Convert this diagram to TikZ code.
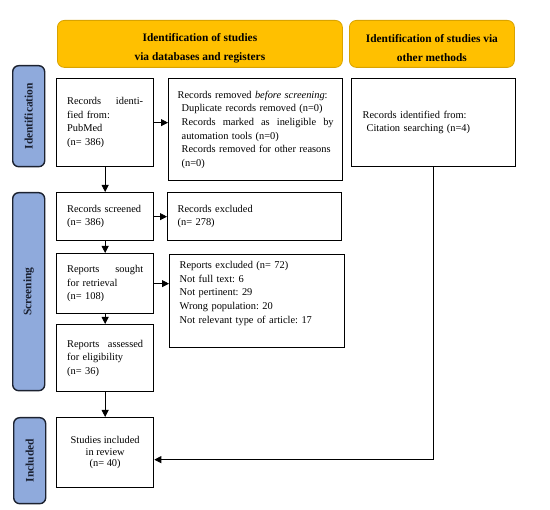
\documentclass[tikz,border=0pt]{standalone}
\usepackage{fontspec}
\setmainfont{Liberation Serif}
\usetikzlibrary{arrows.meta}
\definecolor{hdrgold}{HTML}{FFC000}
\definecolor{hdredge}{HTML}{D9A300}
\definecolor{sideblue}{HTML}{8FAADC}
\definecolor{sideedge}{HTML}{1C2230}
\definecolor{sidetext}{HTML}{1A2030}
\tikzset{
  hdr/.style={draw=hdredge, line width=0.8pt, fill=hdrgold, rounded corners=7pt,
    anchor=north west, inner sep=0pt},
  hdrtxt/.style={align=center, inner sep=0pt,
    font=\fontsize{11.4}{19}\selectfont\bfseries\frenchspacing},
  side/.style={draw=sideedge, line width=1.4pt, fill=sideblue, rounded corners=6pt,
    anchor=north west, inner sep=0pt, text=sidetext},
  sidelbl/.style={rotate=90, font=\fontsize{11.5}{12}\selectfont\bfseries, text=sidetext},
  box/.style={draw=black, line width=1.3pt, fill=white, anchor=north west,
    inner xsep=0pt, inner ysep=0pt, align=left,
    font=\fontsize{10.4}{13.6}\selectfont\frenchspacing},
  arr/.style={draw=black, line width=0.8pt, -{Triangle[length=7pt,width=7pt]}}
}
\begin{document}
\begin{tikzpicture}[x=1pt,y=-1pt]
\useasboundingbox (0,0) rectangle (550,510);
% headers
\node[hdr, minimum width=285pt, minimum height=47pt] (h1) at (57,20) {};
\node[hdrtxt] (h1t) at ([yshift=-4.5pt]h1.center) {Identification of studies\\via databases and registers};
\node[hdr, minimum width=165pt, minimum height=47pt] (h2) at (349,20) {};
\node[hdrtxt] (h2t) at ([yshift=-4.5pt]h2.center) {Identification of studies via\\other methods};
% side bars
\node[side, minimum width=32pt, minimum height=101pt] (s1) at (12,65) {};
\node[sidelbl] (s1t) at (s1.center) {Identification};
\node[side, minimum width=32pt, minimum height=198pt] (s2) at (12,192) {};
\node[sidelbl] (s2t) at (s2.center) {Screening};
\node[side, minimum width=32pt, minimum height=86pt] (s3) at (13,417) {};
\node[sidelbl] (s3t) at (s3.center) {Included};
% boxes
\node[box, minimum width=97pt, minimum height=88pt, text width=76pt] (idf) at (56,78)
  {Records\hfill identi-\\fied from:\\PubMed\\(n= 386)};
\node[box, minimum width=174pt, minimum height=102pt, text width=156pt] (rem) at (168,78)
  {Records removed \textit{before screening}:\\
   \hspace*{4pt}Duplicate records removed (n=0)\\
   \hspace*{4pt}Records\hfill marked\hfill as\hfill ineligible\hfill by\\
   \hspace*{4pt}automation tools (n=0)\\
   \hspace*{4pt}Records removed for other reasons\\
   \hspace*{4pt}(n=0)};
\node[box, minimum width=164pt, minimum height=88pt, text width=142pt] (oth) at (351,78)
  {Records identified from:\\\hspace*{4pt}Citation searching (n=4)};
\node[box, minimum width=97pt, minimum height=48pt, text width=76pt] (scr) at (56,192)
  {Records screened\\(n= 386)};
\node[box, minimum width=174pt, minimum height=48pt, text width=154pt] (exc) at (167,192)
  {Records excluded\\(n= 278)};
\node[box, minimum width=97pt, minimum height=60pt, text width=76pt] (sou) at (56,253)
  {Reports\hfill sought\\for retrieval\\(n= 108)};
\node[box, minimum width=175pt, minimum height=93pt, text width=155pt] (rex) at (169,254)
  {Reports excluded (n= 72)\\Not full text: 6\\Not pertinent: 29\\Wrong population: 20\\Not relevant type of article: 17\\\strut};
\node[box, minimum width=97pt, minimum height=67pt, text width=76pt] (ass) at (56,324)
  {Reports\hfill assessed\\for eligibility\\(n= 36)};
\node[box, minimum width=97pt, minimum height=70pt, align=center,
  font=\fontsize{10.4}{11.5}\selectfont\frenchspacing] (inc) at (56,417)
  {Studies included\\in review\\(n= 40)};
% connectors
\draw[arr] (idf.east) -- (idf.east -| rem.west);
\draw[arr] (idf.south) -- (idf.south |- scr.north);
\draw[arr] (scr.east) -- (scr.east -| exc.west);
\draw[arr] (scr.south) -- (scr.south |- sou.north);
\draw[arr] (sou.east) -- (sou.east -| rex.west);
\draw[arr] (sou.south) -- (sou.south |- ass.north);
\draw[arr] (ass.south) -- (ass.south |- inc.north);
\draw[arr] (oth.south) |- ([yshift=-7pt]inc.east);
\end{tikzpicture}
\end{document}
